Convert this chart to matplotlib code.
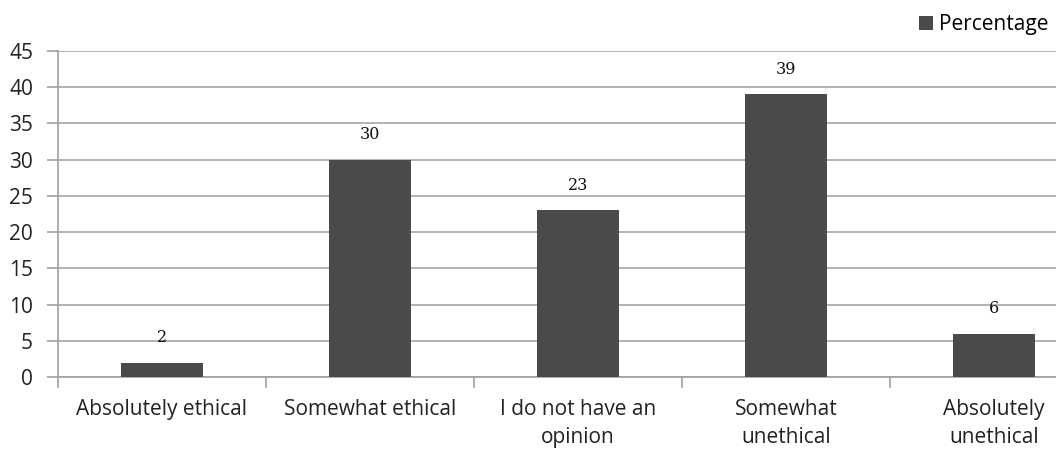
import matplotlib.pyplot as plt
import numpy as np

categories = ['Absolutely ethical', 'Somewhat ethical', 'I do not have an\nopinion',
              'Somewhat\nunethical', 'Absolutely\nunethical']
percentage = [2, 30, 23, 39, 6]

plt.rcParams['font.family'] = ['Open Sans', 'DejaVu Sans']

fig = plt.figure(figsize=(10.56, 4.5), dpi=100)
# plot area runs a little past the right edge of the figure
ax = fig.add_axes([58/1056, 73/450, 1040/1056, 326/450])

x = np.arange(len(categories))
bars = ax.bar(x, percentage, width=0.395, color='#4a4a4a', zorder=3, label='Percentage')

for xi, v in zip(x, percentage):
    ax.text(xi, v + 2.3, str(v), ha='center', va='bottom', fontsize=11.5,
            family='DejaVu Serif', color='#111111')

ax.set_xlim(-0.5, len(categories) - 0.5)
ax.set_ylim(0, 45)
ax.set_yticks(range(0, 46, 5))
ax.yaxis.grid(True, color='#a6a6a6', linewidth=1.2, zorder=0)

ax.set_xticks(np.arange(-0.5, len(categories), 1))
ax.set_xticklabels([])
ax.set_xticks(x, minor=True)
ax.set_xticklabels(categories, minor=True, fontsize=15, color='#222222', linespacing=1.45)
ax.tick_params(axis='x', which='minor', length=0, pad=16)
ax.tick_params(axis='x', which='major', length=8, color='#a0a0a0', width=1.2)
ax.tick_params(axis='y', length=8, color='#a0a0a0', width=1.2, labelsize=15,
               labelcolor='#222222', pad=10)

for s in ['top', 'right']:
    ax.spines[s].set_visible(False)
for s in ['left', 'bottom']:
    ax.spines[s].set_color('#a0a0a0')
    ax.spines[s].set_linewidth(1.2)

fig.legend(handles=[bars], labels=['Percentage'], loc='upper right',
           bbox_to_anchor=(1.011, 1.01), frameon=False, fontsize=15,
           handlelength=0.7, handleheight=0.7, handletextpad=0.3)

fig.savefig('out.png', dpi=100)
